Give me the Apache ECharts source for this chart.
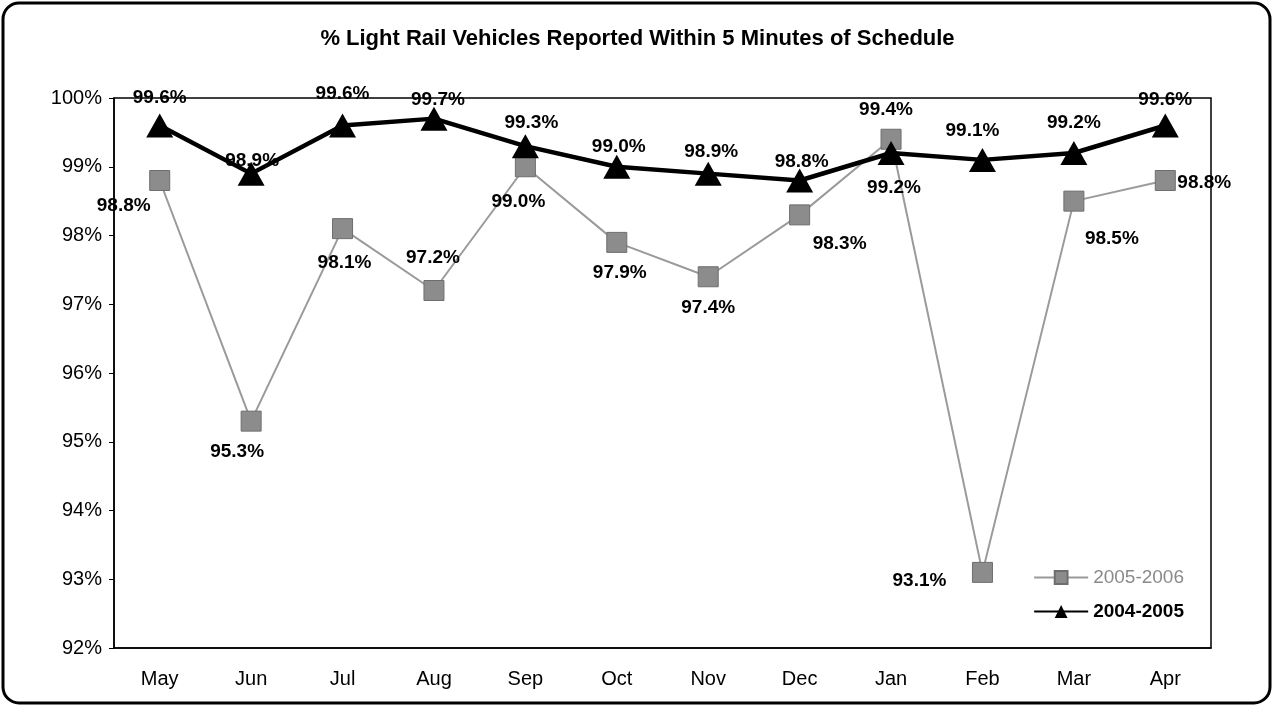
<!DOCTYPE html>
<html>
<head>
<meta charset="UTF-8">
<style>
  html, body { margin: 0; padding: 0; background: #fff; }
  #chart { width: 1275px; height: 709px; }
</style>
<script src="https://cdn.jsdelivr.net/npm/echarts@6/dist/echarts.min.js"></script>
</head>
<body>
<div id="chart"></div>
<script>
var months = ['May', 'Jun', 'Jul', 'Aug', 'Sep', 'Oct', 'Nov', 'Dec', 'Jan', 'Feb', 'Mar', 'Apr'];
var fy0506 = [98.8, 95.3, 98.1, 97.2, 99.0, 97.9, 97.4, 98.3, 99.4, 93.1, 98.5, 98.8];
var fy0405 = [99.6, 98.9, 99.6, 99.7, 99.3, 99.0, 98.9, 98.8, 99.2, 99.1, 99.2, 99.6];

// label placement per point (offset from the marker centre)
var offs0506 = [[-36, 25], [-14, 31], [2, 34], [-1, -33], [-7, 35], [3, 30], [0, 31], [40, 29], [-5, -29], [-63, 8], [38, 38], [39, 2]];
var offs0405 = [[0, -28], [1, -13], [0, -32], [4, -19], [6, -23], [2, -20], [3, -22], [2, -19], [3, 35], [-10, -29], [0, -30], [0, -26]];

function pts(vals, offs) {
  return vals.map(function (v, i) {
    return { value: v, label: { offset: offs[i] } };
  });
}

var chart = echarts.init(document.getElementById('chart'));
var font = 'Liberation Sans, Arial';
var lblStyle = {
  show: true,
  position: 'inside',
  fontFamily: font,
  fontSize: 19,
  fontWeight: 'bold',
  color: '#000',
  formatter: function (p) { return p.value.toFixed(1) + '%'; }
};

chart.setOption({
  animation: false,
  title: {
    text: '% Light Rail Vehicles Reported Within 5 Minutes of Schedule',
    left: 'center',
    top: 23,
    textStyle: { fontFamily: font, fontSize: 22, fontWeight: 'bold', color: '#000' }
  },
  graphic: [{
    type: 'rect',
    shape: { x: 3, y: 3, width: 1267, height: 700, r: 16 },
    style: { fill: 'none', stroke: '#000', lineWidth: 3 },
    z: -1
  }],
  legend: {
    orient: 'vertical',
    right: 86,
    top: 563,
    itemWidth: 54,
    itemHeight: 16,
    itemGap: 15,
    data: [
      { name: '2005-2006', textStyle: { color: '#8a8a8a', fontWeight: 'normal' } },
      { name: '2004-2005', textStyle: { color: '#000', fontWeight: 'bold' } }
    ],
    textStyle: { fontFamily: font, fontSize: 19 }
  },
  grid: { left: 114, right: 64, top: 98, bottom: 61, show: true, borderColor: '#000', borderWidth: 1.5 },
  xAxis: {
    type: 'category',
    data: months,
    boundaryGap: true,
    axisLine: { lineStyle: { color: '#000', width: 1.5 } },
    axisTick: { show: false },
    axisLabel: { fontFamily: font, fontSize: 20, color: '#000', margin: 21 }
  },
  yAxis: {
    type: 'value',
    min: 92,
    max: 100,
    interval: 1,
    splitLine: { show: false },
    axisLine: { show: true, lineStyle: { color: '#000', width: 1.5 } },
    axisTick: { show: true, length: 5, lineStyle: { color: '#000' } },
    axisLabel: { fontFamily: font, fontSize: 20, color: '#000', margin: 12, formatter: '{value}%' }
  },
  series: [
    {
      name: '2005-2006',
      type: 'line',
      data: pts(fy0506, offs0506),
      symbol: 'rect',
      symbolSize: 20,
      lineStyle: { color: '#9a9a9a', width: 2 },
      itemStyle: { color: '#8c8c8c', borderColor: '#6e6e6e', borderWidth: 1 },
      label: lblStyle,
      z: 2
    },
    {
      name: '2004-2005',
      type: 'line',
      data: pts(fy0405, offs0405),
      symbol: 'triangle',
      symbolSize: [27, 24],
      lineStyle: { color: '#000', width: 4.5 },
      itemStyle: { color: '#000' },
      label: lblStyle,
      z: 3
    }
  ]
});
</script>
</body>
</html>
